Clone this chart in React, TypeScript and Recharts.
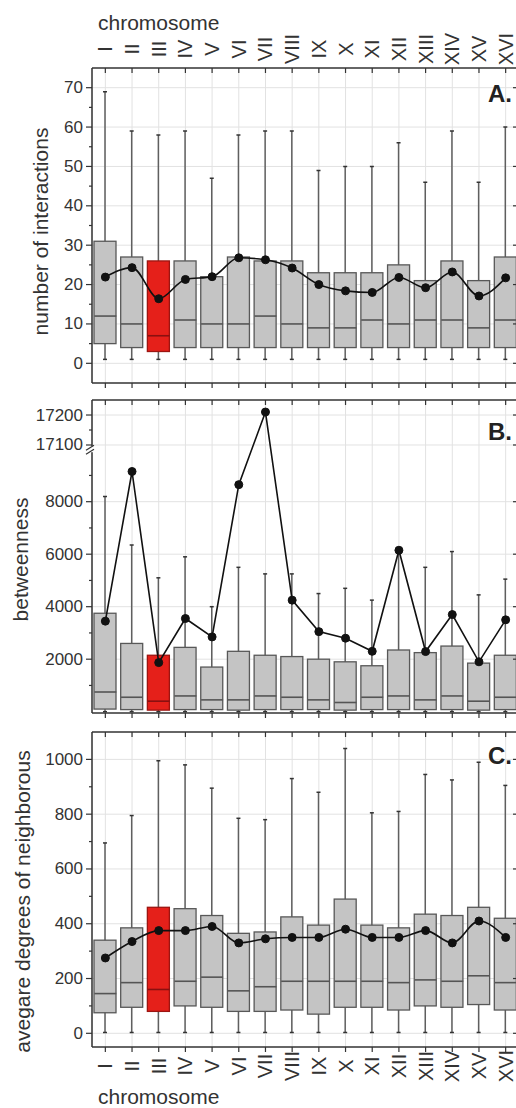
import { ComposedChart, Bar, Line, XAxis, YAxis, CartesianGrid } from "recharts"

const chromosomes = ["I", "II", "III", "IV", "V", "VI", "VII", "VIII", "IX", "X", "XI", "XII", "XIII", "XIV", "XV", "XVI"]
const highlighted = "III"

// A. number of interactions
const intMin = [1, 1, 1, 1, 1, 1, 1, 1, 1, 1, 1, 1, 1, 1, 1, 1]
const intQ1 = [5, 4, 3, 4, 4, 4, 4, 4, 4, 4, 4, 4, 4, 4, 4, 4]
const intMedian = [12, 10, 7, 11, 10, 10, 12, 10, 9, 9, 11, 10, 11, 11, 9, 11]
const intQ3 = [31, 27, 26, 26, 22, 27, 26, 26, 23, 23, 23, 25, 21, 26, 21, 27]
const intMax = [69, 59, 58, 59, 47, 58, 59, 59, 49, 50, 50, 56, 46, 59, 46, 60]
const intMean = [21.9, 24.3, 16.4, 21.3, 22, 26.8, 26.3, 24.2, 20, 18.4, 18, 21.8, 19.2, 23.2, 17.1, 21.7]

// B. betweenness
const btwMin = [0, 0, 0, 0, 0, 0, 0, 0, 0, 0, 0, 0, 0, 0, 0, 0]
const btwQ1 = [100, 80, 60, 80, 80, 60, 80, 80, 80, 60, 80, 80, 80, 80, 60, 80]
const btwMedian = [750, 550, 400, 600, 450, 450, 600, 550, 450, 350, 550, 600, 450, 600, 400, 550]
const btwQ3 = [3750, 2600, 2150, 2450, 1700, 2300, 2150, 2100, 2000, 1900, 1750, 2350, 2250, 2500, 1850, 2150]
const btwMax = [8200, 6350, 5100, 5900, 4000, 5500, 5250, 5250, 4500, 4700, 4250, 6050, 5500, 6100, 4450, 5050]
const btwMean = [3450, 9150, 1870, 3550, 2850, 8650, 17210, 4250, 3050, 2800, 2300, 6150, 2290, 3700, 1900, 3500]

// C. avegare degrees of neighborous
const degMin = [3, 3, 3, 3, 3, 3, 3, 3, 3, 3, 3, 3, 3, 3, 3, 3]
const degQ1 = [75, 95, 80, 100, 95, 80, 80, 85, 70, 95, 95, 85, 100, 95, 105, 85]
const degMedian = [145, 185, 160, 190, 205, 155, 170, 190, 190, 190, 190, 185, 195, 190, 210, 185]
const degQ3 = [340, 385, 460, 455, 430, 365, 370, 425, 395, 490, 395, 385, 435, 430, 460, 420]
const degMax = [695, 795, 995, 980, 895, 785, 780, 930, 880, 1040, 805, 810, 945, 925, 990, 905]
const degMean = [275, 335, 375, 375, 390, 330, 345, 350, 350, 380, 350, 350, 375, 330, 410, 350]

const intMajor = [0, 10, 20, 30, 40, 50, 60, 70]
const intMinor = [5, 15, 25, 35, 45, 55, 65]
const btwMajorLow = [2000, 4000, 6000, 8000]
const btwMinorLow = [1000, 3000, 5000, 7000, 9000]
const btwMajorHigh = [17100, 17200]
const btwMinorHigh = [17150]
const degMajor = [0, 200, 400, 600, 800, 1000]
const degMinor = [100, 300, 500, 700, 900]

// broken axis for betweenness
const BREAK_LO = 10000
const BREAK_HI = 17086
const RATIO = 11.42
const tB = (v: number) => (v <= BREAK_LO ? v : BREAK_LO + (v - BREAK_HI) * RATIO)
const tBinv = (t: number) => (t <= BREAK_LO ? t : BREAK_HI + (t - BREAK_LO) / RATIO)

const FONT = "'Liberation Sans', Arial, sans-serif"
const INK = "#333"

const rows = (mn: number[], q1: number[], md: number[], q3: number[], mx: number[], mean: number[], f = (v: number) => v) =>
  chromosomes.map((name, i) => ({
    name,
    whisker: [f(mn[i]), f(mx[i])],
    box: [f(q1[i]), f(q3[i])],
    median: f(md[i]),
    mean: f(mean[i]),
  }))

const dataA = rows(intMin, intQ1, intMedian, intQ3, intMax, intMean)
const dataB = rows(btwMin, btwQ1, btwMedian, btwQ3, btwMax, btwMean, tB)
const dataC = rows(degMin, degQ1, degMedian, degQ3, degMax, degMean)

const Whisker = (props: any) => {
  const { x, y, width, height } = props
  const cx = x + width / 2
  const top = Math.min(y, y + height)
  const bot = Math.max(y, y + height)
  return (
    <g stroke="#5f5f5f" strokeWidth={1.5}>
      <line x1={cx} x2={cx} y1={top} y2={bot} />
      <line x1={cx - 2} x2={cx + 2} y1={top} y2={top} stroke="#333" />
      <line x1={cx - 2} x2={cx + 2} y1={bot} y2={bot} stroke="#333" />
    </g>
  )
}

const BoxRect = (props: any) => {
  const { x, y, width, height, payload } = props
  const hi = payload.name === highlighted
  return (
    <rect
      x={x}
      y={Math.min(y, y + height)}
      width={width}
      height={Math.abs(height)}
      fill={hi ? "#e5201a" : "#c4c4c4"}
      stroke={hi ? "#9c1511" : "#585858"}
      strokeWidth={1.3}
    />
  )
}

const MedianMark = (props: any) => {
  const { cx, cy, payload } = props
  const hi = payload.name === highlighted
  return <line x1={cx - 11} x2={cx + 11} y1={cy} y2={cy} stroke={hi ? "#8a1010" : "#555"} strokeWidth={1.6} />
}

const TopTick = (props: any) => {
  const { x, y, payload, showLabel } = props
  return (
    <g>
      <line x1={x} x2={x} y1={y} y2={y + 5} stroke={INK} strokeWidth={1.2} />
      {showLabel && (
        <text transform={`translate(${x},${y - 19}) rotate(-90)`} textAnchor="middle" dominantBaseline="central" fontSize={20} fill={INK} fontFamily={FONT}>
          {payload.value}
        </text>
      )}
    </g>
  )
}

const BottomTick = (props: any) => {
  const { x, y, payload, showLabel } = props
  return (
    <g>
      <line x1={x} x2={x} y1={y} y2={y + 5} stroke={INK} strokeWidth={1.2} />
      {showLabel && (
        <text transform={`translate(${x},${y + 19}) rotate(-90)`} textAnchor="middle" dominantBaseline="central" fontSize={20} fill={INK} fontFamily={FONT}>
          {payload.value}
        </text>
      )}
    </g>
  )
}

const LeftTick = (props: any) => {
  const { x, y, payload, majors, format, breakAt } = props
  const v = payload.value
  if (breakAt !== undefined && v === breakAt) {
    return (
      <g stroke={INK} strokeWidth={1.2}>
        <rect x={x - 2} y={y - 3} width={4} height={6} fill="#fff" stroke="none" />
        <line x1={x - 6} x2={x + 2} y1={y + 1} y2={y - 4} />
        <line x1={x - 6} x2={x + 2} y1={y + 5} y2={y} />
      </g>
    )
  }
  const major = majors.includes(v)
  return (
    <g>
      <line x1={x - (major ? 6 : 3)} x2={x} y1={y} y2={y} stroke={INK} strokeWidth={1.2} />
      {major && (
        <text x={x - 9} y={y} textAnchor="end" dominantBaseline="central" fontSize={17} fill={INK} fontFamily={FONT}>
          {format(v)}
        </text>
      )}
    </g>
  )
}

const RightTick = (props: any) => {
  const { x, y, payload, majors } = props
  const major = majors.includes(payload.value)
  return <line x1={x - (major ? 6 : 3)} x2={x} y1={y} y2={y} stroke={INK} strokeWidth={1.2} />
}

const YTitle = (props: any) => {
  const { viewBox, text, cx, dy } = props
  return (
    <text
      transform={`translate(${cx},${viewBox.y + viewBox.height / 2 + dy}) rotate(-90)`}
      textAnchor="middle"
      dominantBaseline="central"
      fontSize={21}
      fill={INK}
      fontFamily={FONT}
    >
      {text}
    </text>
  )
}

const Letter = (props: any) => {
  const { viewBox, text, dy } = props
  return (
    <text x={viewBox.x - 31} y={viewBox.y + dy} dominantBaseline="central" fontSize={24} fontWeight="bold" fill="#222" fontFamily={FONT}>
      {text}
    </text>
  )
}

const ChromTitle = (props: any) => {
  const { viewBox, dy } = props
  return (
    <text x={viewBox.x + 6} y={viewBox.y + dy} dominantBaseline="central" fontSize={21} fill={INK} fontFamily={FONT}>
      chromosome
    </text>
  )
}

type PanelProps = {
  data: any[]
  height: number
  topH: number
  bottomH: number
  domain: number[]
  majors: number[]
  minors: number[]
  breakAt?: number
  format: (v: number) => string
  title: string
  titleX: number
  titleDy: number
  letter: string
  letterDy: number
  topLabels?: boolean
  bottomLabels?: boolean
  curve: "monotone" | "linear"
}

function Panel(p: PanelProps) {
  const ticks = [...p.majors, ...p.minors, ...(p.breakAt !== undefined ? [p.breakAt] : [])].sort((a, b) => a - b)
  const axisLine = { stroke: INK, strokeWidth: 1.5 }
  return (
    <ComposedChart width={529} height={p.height} data={p.data} margin={{ top: 0, right: 0, bottom: 0, left: 0 }}>
      <CartesianGrid xAxisId="bottom" yAxisId="l" stroke="#e2e2e2" strokeWidth={1} horizontalValues={p.majors} />
      <XAxis
        xAxisId="top"
        orientation="top"
        dataKey="name"
        height={p.topH}
        interval={0}
        tickLine={false}
        tickSize={0}
        tickMargin={0}
        axisLine={axisLine}
        tick={<TopTick showLabel={p.topLabels} />}
        label={p.topLabels ? <ChromTitle dy={22} /> : undefined}
      />
      <XAxis
        xAxisId="bottom"
        orientation="bottom"
        dataKey="name"
        height={p.bottomH}
        interval={0}
        tickLine={false}
        tickSize={0}
        tickMargin={0}
        axisLine={axisLine}
        tick={<BottomTick showLabel={p.bottomLabels} />}
        label={p.bottomLabels ? <ChromTitle dy={49} /> : undefined}
      />
      <YAxis
        yAxisId="l"
        type="number"
        width={92}
        domain={p.domain}
        allowDataOverflow
        ticks={ticks}
        interval={0}
        tickLine={false}
        tickSize={0}
        tickMargin={0}
        axisLine={axisLine}
        tick={<LeftTick majors={p.majors} format={p.format} breakAt={p.breakAt} />}
        label={<YTitle text={p.title} cx={p.titleX} dy={p.titleDy} />}
      />
      <YAxis
        yAxisId="r"
        orientation="right"
        type="number"
        width={10}
        domain={p.domain}
        allowDataOverflow
        ticks={ticks.filter((t) => t !== p.breakAt)}
        interval={0}
        tickLine={false}
        tickSize={0}
        tickMargin={0}
        axisLine={axisLine}
        tick={<RightTick majors={p.majors} />}
        label={<Letter text={p.letter} dy={p.letterDy} />}
      />
      <Bar xAxisId="bottom" yAxisId="l" dataKey="whisker" barSize={6} shape={<Whisker />} isAnimationActive={false} />
      <Bar xAxisId="top" yAxisId="l" dataKey="box" barSize={22} shape={<BoxRect />} isAnimationActive={false} />
      <Line
        xAxisId="bottom"
        yAxisId="l"
        dataKey="median"
        stroke="none"
        dot={<MedianMark />}
        activeDot={false}
        isAnimationActive={false}
      />
      <Line
        xAxisId="bottom"
        yAxisId="l"
        type={p.curve}
        dataKey="mean"
        stroke="#111"
        strokeWidth={1.6}
        dot={{ r: 4, fill: "#111", stroke: "#111", strokeWidth: 1 }}
        activeDot={false}
        isAnimationActive={false}
      />
    </ComposedChart>
  )
}

const plain = (v: number) => String(v)
const fmtB = (v: number) => String(Math.round(tBinv(v)))

export default function App() {
  return (
    <div
      style={{
        position: "fixed",
        left: 0,
        top: 0,
        width: 516,
        height: 1108,
        overflow: "hidden",
        background: "#fff",
        fontFamily: FONT,
      }}
    >
      <Panel
        data={dataA}
        height={393}
        topH={68}
        bottomH={10}
        domain={[-5, 75]}
        majors={intMajor}
        minors={intMinor}
        format={plain}
        title="number of interactions"
        titleX={40}
        titleDy={6}
        letter="A."
        letterDy={25}
        topLabels
        curve="monotone"
      />
      <Panel
        data={dataB}
        height={330}
        topH={7}
        bottomH={10}
        domain={[-50, 11874]}
        majors={[...btwMajorLow, ...btwMajorHigh.map(tB)]}
        minors={[...btwMinorLow, ...btwMinorHigh.map(tB)]}
        breakAt={BREAK_LO}
        format={fmtB}
        title="betweenness"
        titleX={20}
        titleDy={3}
        letter="B."
        letterDy={31}
        curve="linear"
      />
      <Panel
        data={dataC}
        height={385}
        topH={9}
        bottomH={61}
        domain={[-50, 1100]}
        majors={degMajor}
        minors={degMinor}
        format={plain}
        title="avegare degrees of neighborous"
        titleX={22}
        titleDy={12}
        letter="C."
        letterDy={23}
        bottomLabels
        curve="monotone"
      />
    </div>
  )
}
